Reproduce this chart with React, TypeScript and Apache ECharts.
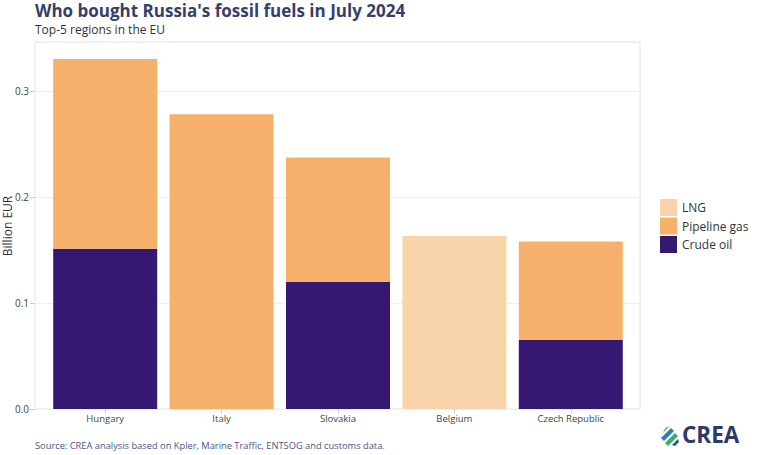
import React, { useEffect, useRef } from "react";
import * as echarts from "echarts";

const categories = ["Hungary", "Italy", "Slovakia", "Belgium", "Czech Republic"];
const crudeOil = [0.151, 0, 0.12, 0, 0.065];
const pipelineGas = [0.179, 0.278, 0.117, 0, 0.093];
const lng = [0, 0, 0, 0.163, 0];
const seriesNames = ["LNG", "Pipeline gas", "Crude oil"];
const yTicks = [0, 0.1, 0.2, 0.3];

const FONT = "'Open Sans', 'Noto Sans', sans-serif";

export default function App() {
  const ref = useRef<HTMLDivElement>(null);
  useEffect(() => {
    document.body.style.margin = "0";
    if (!ref.current) return;
    const chart = echarts.init(ref.current, undefined, { renderer: "svg" });
    const mk = (name: string, data: number[], color: string) => ({
      name,
      type: "bar",
      stack: "total",
      xAxisIndex: 0,
      yAxisIndex: 0,
      barWidth: 104,
      data: data.map((v) => (v === 0 ? null : v)),
      itemStyle: { color },
      emphasis: { disabled: true },
    });
    chart.setOption({
      animation: false,
      textStyle: { fontFamily: FONT },
      title: [
        {
          text: "Who bought Russia's fossil fuels in July 2024",
          left: 35,
          top: 2,
          padding: 0,
          textStyle: { fontSize: 17, lineHeight: 17, fontWeight: "bold", color: "#353f6b", fontFamily: FONT },
        },
        {
          text: "Top-5 regions in the EU",
          left: 35,
          top: 22,
          padding: 0,
          textStyle: { fontSize: 12, lineHeight: 14, fontWeight: "normal", color: "#333", fontFamily: FONT },
        },
      ],
      legend: {
        orient: "vertical",
        left: 655,
        top: 194,
        itemWidth: 17,
        itemHeight: 17,
        itemGap: 1.5,
        icon: "rect",
        data: seriesNames,
        textStyle: { fontSize: 12, color: "#333", fontFamily: FONT },
        selectedMode: false,
      },
      grid: [
        { left: 47, right: 129, top: 42, bottom: 46 },
        { left: 35, right: 118, top: 42, bottom: 46, show: true, borderColor: "#e4e4e4", borderWidth: 1 },
      ],
      xAxis: [
        {
          type: "category",
          gridIndex: 0,
          data: categories,
          axisLine: { show: false },
          axisTick: { show: true, alignWithLabel: true, length: 4, lineStyle: { color: "#ccc" } },
          axisLabel: { fontSize: 9.5, color: "#444", margin: 4, fontFamily: FONT },
        },
        { type: "value", gridIndex: 1, show: false, min: 0, max: 1 },
      ],
      yAxis: [
        { type: "value", gridIndex: 0, min: 0, max: 0.346, show: false, splitLine: { show: false } },
        {
          type: "value",
          gridIndex: 1,
          min: 0,
          max: 0.346,
          interval: 0.1,
          axisLine: { show: false },
          axisTick: { show: true, length: 5, lineStyle: { color: "#ccc" } },
          splitLine: { show: true, lineStyle: { color: "#eeeeee" } },
          axisLabel: {
            fontSize: 10,
            color: "#444",
            margin: 6,
            showMaxLabel: false,
            fontFamily: FONT,
            formatter: (v: number) => (yTicks.some((t) => Math.abs(t - v) < 1e-6) ? v.toFixed(1) : ""),
          },
        },
      ],
      series: [
        mk("Crude oil", crudeOil, "#361772"),
        mk("Pipeline gas", pipelineGas, "#f5b16b"),
        mk("LNG", lng, "#f9d4ab"),
      ],
      graphic: [
        {
          type: "text",
          x: 7,
          y: 226,
          rotation: Math.PI / 2,
          style: {
            text: "Billion EUR",
            fontSize: 12,
            fill: "#333",
            fontFamily: FONT,
            align: "center",
            verticalAlign: "middle",
          },
        },
        {
          type: "text",
          left: 35,
          top: 441,
          style: {
            text: "Source: CREA analysis based on Kpler, Marine Traffic, ENTSOG and customs data.",
            fontSize: 9.3,
            fill: "#4a5687",
            fontFamily: FONT,
          },
        },
        {
          type: "group",
          left: 661,
          top: 423,
          children: [
            { type: "polygon", shape: { points: [[0, 12], [10, 2], [13, 5], [3, 15]] }, style: { fill: "#2a7fb8" } },
            { type: "polygon", shape: { points: [[4, 17], [14, 7], [17, 10], [7, 20]] }, style: { fill: "#34b06a" } },
            { type: "polygon", shape: { points: [[11, 19], [17, 13], [18, 16], [14, 20]] }, style: { fill: "#1c5b7a" } },
            { type: "polygon", shape: { points: [[4, 2], [9, 0], [2, 7]] }, style: { fill: "#7cc242" } },
            {
              type: "text",
              x: 21,
              y: -3,
              style: { text: "CREA", fontSize: 22.5, fontWeight: "bold", fill: "#2c3a66", fontFamily: FONT },
            },
          ],
        },
      ],
    });
    return () => chart.dispose();
  }, []);
  return <div ref={ref} style={{ width: 758, height: 455 }} />;
}
